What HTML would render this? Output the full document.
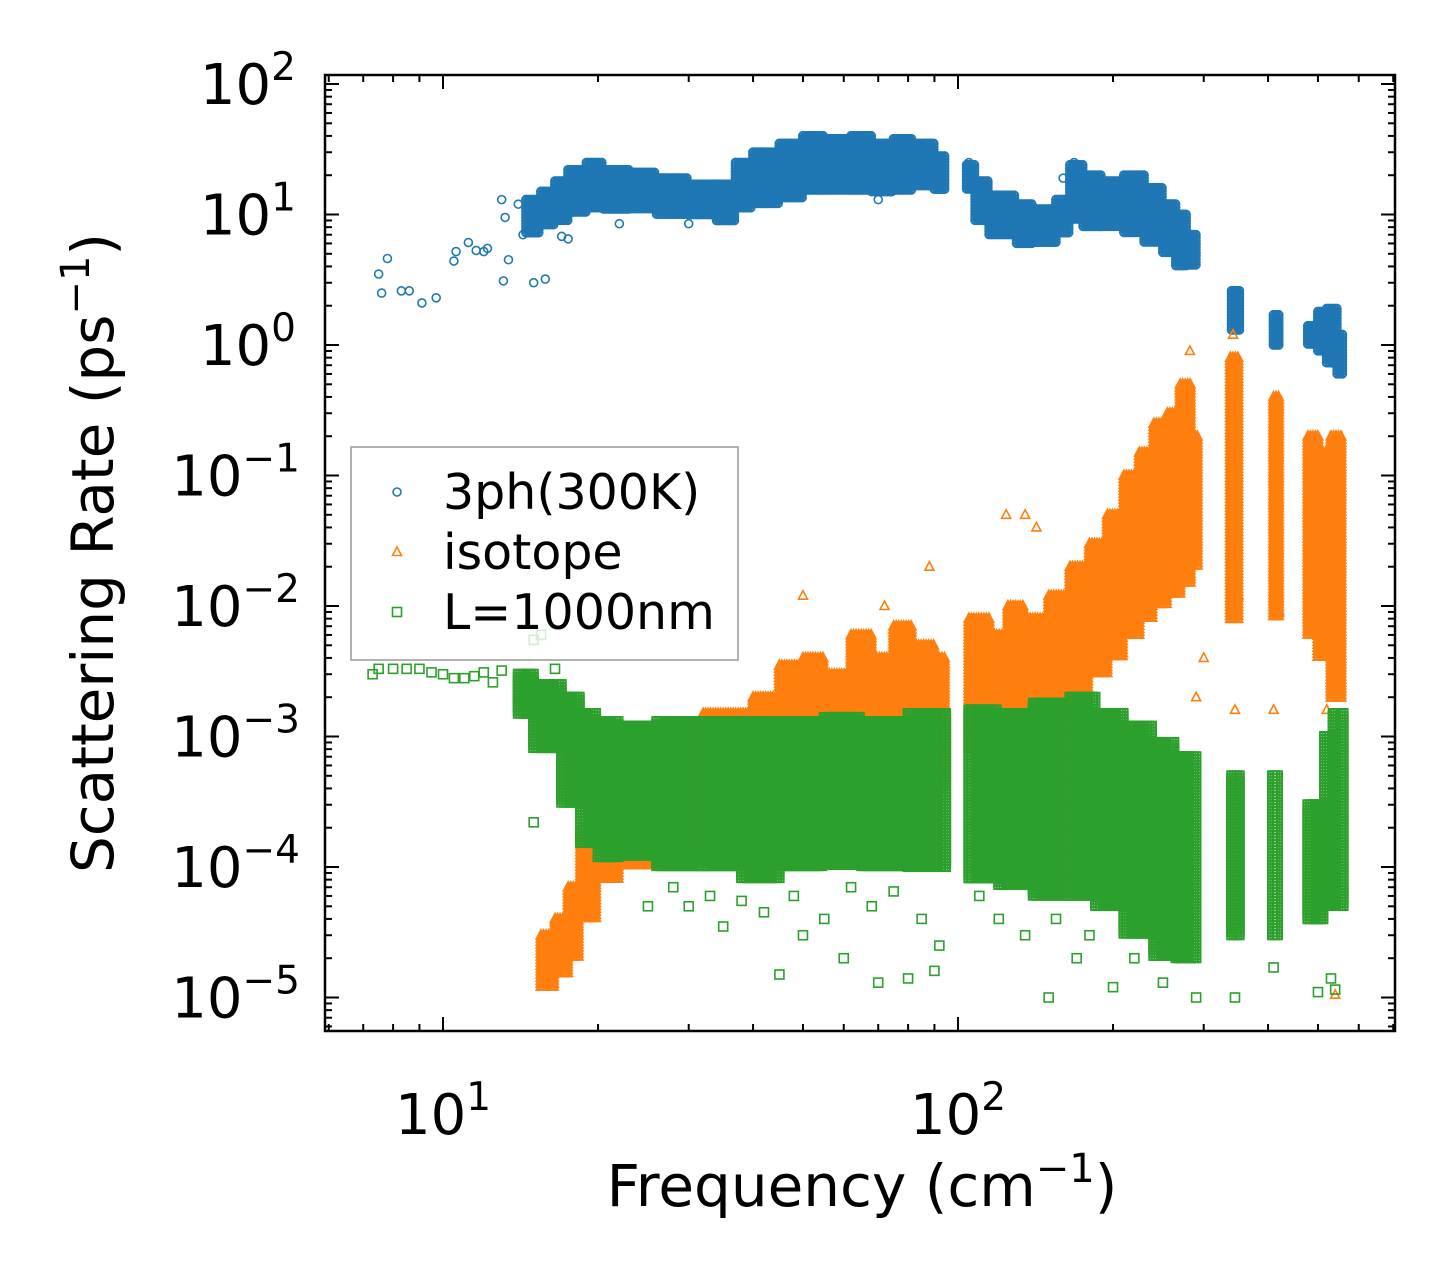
<!DOCTYPE html>
<html><head><meta charset="utf-8"><style>
body{margin:0;background:#fff}
svg{display:block}
text{font-family:"DejaVu Sans","Liberation Sans",sans-serif;fill:#000}
</style></head><body>
<svg id="chart" width="1455" height="1281" xmlns="http://www.w3.org/2000/svg">
<g id="marks"></g>
<g id="axes"></g>
</svg>
<script>
// ---- data (freq cm^-1, rate ps^-1) ----
const blueSparse=[[7.5,3.5],[7.6,2.5],[7.8,4.6],[8.3,2.6],[8.6,2.6],[9.1,2.1],[9.7,2.3],[10.5,4.4],[10.6,5.2],[11.2,6.1],[11.6,5.3],[12,5.2],[12.2,5.5],[13,13],[13.1,3.1],[13.2,9.5],[13.4,4.5],[14,12],[14.3,7],[14.5,8],[15,3],[15.2,7.5],[15.8,3.2],[16,12],[17,6.8],[17.5,6.5],[22,8.5],[30,8.5],[70,13],[105,25],[160,19],[168,25]];
const blueBands=[[14.5,15.5,7,13],[15.5,16.5,8,15],[16.5,17.5,9,18],[17.5,19,10,22],[19,20.5,11,25],[20.5,23,11,22],[23,26,11,21],[26,30,10,19],[30,34,10,17],[34,37,9,17],[37,40,11,25],[40,45,12,30],[45,50,13,35],[50,55,15,40],[55,62,15,38],[62,68,15,40],[68,75,15,35],[75,82,15,38],[82,90,16,35],[90,95,15,28],[104,108,15,24],[108,115,9,18],[115,130,7,14],[130,140,6,12],[140,155,6,11],[155,165,7,13],[165,175,9,24],[175,190,8,20],[190,210,8,18],[210,230,7,20],[230,250,6,16],[250,265,5,12],[265,280,4,10],[280,292,4,7],[340,352,1.3,2.6],[410,422,1.0,1.7],[478,500,1.0,1.4],[500,520,0.9,1.8],[520,545,0.7,1.9],[545,560,0.6,1.2]];
const orangeSparse=[[50,1.2e-2],[72,1e-2],[88,2e-2],[124,5e-2],[135,5e-2],[142,4e-2],[282,0.9],[342,1.2],[290,2e-3],[300,4e-3],[345,1.6e-3],[410,1.6e-3],[540,1.05e-5],[350,1.2e-2],[420,9e-3],[530,4e-3],[520,1.6e-3]];
const orangeBands=[[15.5,16.5,1.2e-5,3e-5],[16.5,17.5,1.5e-5,4e-5],[17.5,18.5,2e-5,7e-5],[18.5,20,4e-5,2e-4],[20,22,8e-5,4e-4],[22,26,1e-4,7e-4],[26,32,1.2e-4,1e-3],[32,40,1.5e-4,1.5e-3],[40,45,2e-4,2e-3],[45,50,2e-4,3.5e-3],[50,55,2.5e-4,4e-3],[55,62,3e-4,3e-3],[62,68,3e-4,6e-3],[68,75,3e-4,4e-3],[75,82,4e-4,7e-3],[82,90,4e-4,5e-3],[90,95,4e-4,4e-3],[105,115,8e-4,8e-3],[115,125,8e-4,6e-3],[125,135,1e-3,1e-2],[135,150,1e-3,8e-3],[150,165,1.5e-3,1.2e-2],[165,180,2e-3,2e-2],[180,195,3e-3,3e-2],[195,210,4e-3,5e-2],[210,225,6e-3,0.1],[225,240,8e-3,0.15],[240,255,1e-2,0.25],[255,270,1.2e-2,0.3],[270,285,1.5e-2,0.5],[285,292,2e-2,0.2],[338,352,8e-3,0.8],[410,420,8e-3,0.4],[478,500,6e-3,0.2],[500,530,4e-3,0.15],[530,560,2e-3,0.2]];
const greenSparse=[[7.3,3e-3],[7.5,3.3e-3],[8,3.3e-3],[8.5,3.3e-3],[9,3.3e-3],[9.5,3.1e-3],[10,3e-3],[10.5,2.8e-3],[11,2.8e-3],[11.5,2.9e-3],[12,3.1e-3],[12.5,2.6e-3],[13,3.2e-3],[15,5.5e-3],[15.5,6e-3],[16.5,3.3e-3],[16,9e-4],[15,2.2e-4],[17,5e-4],[25,5e-5],[30,5e-5],[35,3.5e-5],[45,1.5e-5],[50,3e-5],[60,2e-5],[70,1.3e-5],[80,1.4e-5],[90,1.6e-5],[150,1e-5],[170,2e-5],[200,1.2e-5],[250,1.3e-5],[290,1e-5],[345,1e-5],[410,1.7e-5],[500,1.1e-5],[540,1.15e-5],[530,1.4e-5],[28,7e-5],[33,6e-5],[38,5.5e-5],[42,4.5e-5],[48,6e-5],[55,4e-5],[62,7e-5],[68,5e-5],[75,6.5e-5],[85,4e-5],[92,2.5e-5],[110,6e-5],[120,4e-5],[135,3e-5],[155,4e-5],[180,3e-5],[220,2e-5]];
const greenBands=[[14,15,1.5e-3,3e-3],[15,17,8e-4,2.5e-3],[17,18.5,3e-4,2e-3],[18.5,20,1.5e-4,1.5e-3],[20,22,1.2e-4,1.3e-3],[22,26,1.2e-4,1.2e-3],[26,32,1e-4,1.3e-3],[32,38,1e-4,1.3e-3],[38,45,8e-5,1.3e-3],[45,55,1e-4,1.3e-3],[55,65,1e-4,1.4e-3],[65,80,1e-4,1.3e-3],[80,95,1e-4,1.5e-3],[105,120,8e-5,1.6e-3],[120,140,7e-5,1.5e-3],[140,165,6e-5,1.8e-3],[165,185,6e-5,2e-3],[185,210,5e-5,1.5e-3],[210,240,3e-5,1.2e-3],[240,265,2e-5,9e-4],[265,292,2e-5,7e-4],[340,352,3e-5,5e-4],[408,420,3e-5,5e-4],[478,515,4e-5,3e-4],[515,535,5e-5,1e-3],[535,560,5e-5,1.5e-3]];
const xTickVals=[10,100];
const yTickExps=[2,1,0,-1,-2,-3,-4,-5];

// ---- axes ----
const L=325,R=1395,T=75,B=1031;
const X=f=>443+(Math.log10(f)-1)*515;
const Y=v=>84-(Math.log10(v)-2)*130.5;
const NS="http://www.w3.org/2000/svg";
const marks=document.getElementById('marks'), axes=document.getElementById('axes');
function el(tag,attrs,parent){const e=document.createElementNS(NS,tag);for(const k in attrs)e.setAttribute(k,attrs[k]);parent.appendChild(e);return e;}

function marker(kind,cx,cy,g,sw){
  sw=sw||1.6;
  let e;
  if(kind==='circle'){e=el('circle',{cx:cx,cy:cy,r:4,fill:'none',stroke:'#1f77b4','stroke-width':sw},g);}
  else if(kind==='tri'){e=el('polygon',{points:`${cx},${cy-5} ${cx-4.5},${cy+3.5} ${cx+4.5},${cy+3.5}`,fill:'none',stroke:'#ff7f0e','stroke-width':sw},g);}
  else {e=el('rect',{x:cx-4.5,y:cy-4.5,width:9,height:9,fill:'none',stroke:'#2ca02c','stroke-width':sw},g);}
  
  
}
function series(name,kind,bands,sparse){
  const g=el('g',{},marks);
  
  
  bands.forEach(b=>{
    const x0=X(b[0]),x1=X(b[1]),y0=Y(b[3]),y1=Y(b[2]);
    for(let x=x0;x<=x1;x+=2.5){for(let y=y0;y<=y1;y+=3){marker(kind,x,y,g,2);}}
  });
  sparse.forEach(p=>marker(kind,X(p[0]),Y(p[1]),g));
}
series('series-3ph','circle',blueBands,blueSparse);
series('series-isotope','tri',orangeBands,orangeSparse);
series('series-boundary','square',greenBands,greenSparse);

// frame
const fr=el('rect',{x:L,y:T,width:R-L,height:B-T,fill:'none',stroke:'#000','stroke-width':2.5},axes);

// x ticks
for(let d=0;d<=3;d++){for(let m=1;m<=9;m++){const f=Math.pow(10,d)*m;const x=X(f);if(x<L||x>R)continue;const len=m===1?14:7;
  el('line',{x1:x,y1:B,x2:x,y2:B-len,stroke:'#000','stroke-width':2},axes);
  el('line',{x1:x,y1:T,x2:x,y2:T+len,stroke:'#000','stroke-width':2},axes);}}
xTickVals.forEach(v=>{const t=el('text',{x:X(v),y:1134,'font-size':56,'text-anchor':'middle'},axes);
  
  t.innerHTML=`10<tspan dy="-24" font-size="39">${Math.round(Math.log10(v))}</tspan>`;});
// y ticks
for(let e=-6;e<=2;e++){for(let m=1;m<=9;m++){const v=Math.pow(10,e)*m;const y=Y(v);if(y<T||y>B)continue;const len=m===1?14:7;
  el('line',{x1:L,y1:y,x2:L+len,y2:y,stroke:'#000','stroke-width':2},axes);
  el('line',{x1:R,y1:y,x2:R-len,y2:y,stroke:'#000','stroke-width':2},axes);}}
yTickExps.forEach(e=>{const t=el('text',{x:300,y:Y(Math.pow(10,e))+20,'font-size':56,'text-anchor':'end'},axes);
  
  const s=e<0?'\u2212'+(-e):''+e;
  t.innerHTML=`10<tspan dy="-24" font-size="39">${s}</tspan>`;
  if(e>=0)t.setAttribute('x',296);});
// axis titles
const xt=el('text',{x:862,y:1206,'font-size':58,'text-anchor':'middle'},axes);

xt.innerHTML='Frequency (cm<tspan dy="-24" font-size="40">\u22121</tspan><tspan dy="24">)</tspan>';
const yt=el('text',{x:0,y:0,'font-size':58,'text-anchor':'middle',transform:'translate(113,553) rotate(-90)'},axes);

yt.innerHTML='Scattering Rate (ps<tspan dy="-24" font-size="40">\u22121</tspan><tspan dy="24">)</tspan>';
// legend
const lg=el('g',{},axes);

el('rect',{x:351,y:447,width:387,height:213,fill:'rgba(255,255,255,0.8)',stroke:'#999','stroke-width':1.5},lg);
[['circle','3ph(300K)',492],['tri','isotope',552],['square','L=1000nm',612]].forEach(r=>{
  const g=el('g',{},lg);
  
  marker(r[0],397,r[2],g);
  const t=el('text',{x:443,y:r[2]+17,'font-size':49},g);t.textContent=r[1];
});
</script>
</body></html>
